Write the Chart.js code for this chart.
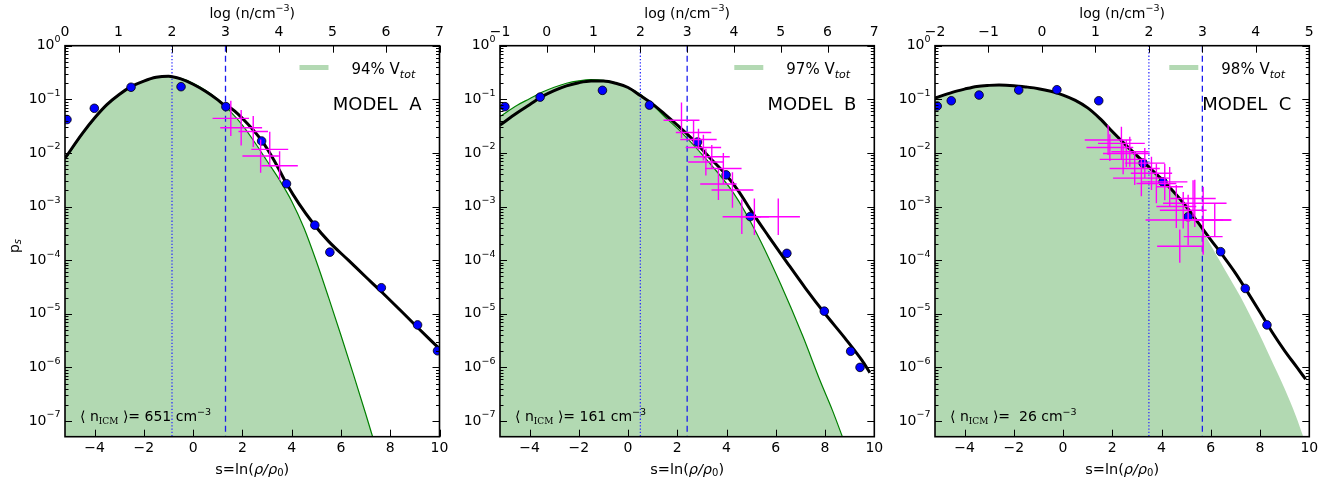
<!DOCTYPE html>
<html><head><meta charset="utf-8">
<script src="https://cdn.jsdelivr.net/npm/chart.js@4.4.1/dist/chart.umd.min.js"></script>
<style>
html,body{margin:0;padding:0;background:#fff;}
#wrap{position:relative;width:1332px;height:485px;overflow:hidden;}
canvas{position:absolute;top:0;}
</style></head><body><div id="wrap">
<canvas id="cA" width="455" height="485" style="left:0px"></canvas>
<canvas id="cB" width="440" height="485" style="left:450px"></canvas>
<canvas id="cC" width="447" height="485" style="left:885px"></canvas>
</div>
<script>
// ---------- shared axis data ----------
const sTicks = [-4, -2, 0, 2, 4, 6, 8, 10];
const yTickExps = [0, -1, -2, -3, -4, -5, -6, -7];
const yMin = 5.1e-8, yMax = 1;
const sMin = -5.2, sMax = 10;
const vDotted = 2, vDashed = 3;   // in log(n) units (top axis)

// ---------- MODEL A ----------
const aTop = [0, 1, 2, 3, 4, 5, 6, 7];
const aFitS = [-5.2,-4.5,-4,-3.5,-3,-2.5,-2,-1.5,-1,-0.5,0,0.5,1,1.3,1.55,2.2,2.8,3.3,3.8,4.3,4.9,5.5,6.3,7,7.6,8.4,9.1,9.95];
const aFitP = [7.94e-3,0.0229,0.0447,0.0794,0.123,0.174,0.219,0.257,0.269,0.240,0.191,0.141,0.0977,0.0759,0.0676,0.0355,0.0166,7.08e-3,2.63e-3,1.12e-3,4.68e-4,2.24e-4,1.0e-4,4.90e-5,2.69e-5,1.175e-5,5.62e-6,2.34e-6];
const aGauS = [-5.2,-4.5,-4,-3.5,-3,-2.5,-2,-1.5,-1,-0.5,0,0.5,1,1.5,2,2.5,3,3.5,4,4.5,5,5.5,6,6.5,7,7.35];
const aGauP = [7.59e-3,0.0224,0.0437,0.0785,0.122,0.172,0.222,0.257,0.269,0.245,0.1995,0.148,0.1,0.0603,0.0331,0.0158,7.08e-3,3.16e-3,1.26e-3,3.98e-4,9.55e-5,2.0e-5,3.98e-6,7.59e-7,1.38e-7,4.07e-8];
const aDotS = [-5.12,-4.01,-2.52,-0.49,1.33,2.78,3.79,4.94,5.55,7.64,9.11,9.92];
const aDotP = [0.042,0.068,0.168,0.172,0.073,0.0167,2.66e-3,4.5e-4,1.41e-4,3.06e-5,6.2e-6,2.04e-6];
const aErrS = [1.53,1.95,2.44,3.11,2.74,3.51];
const aErrP = [0.0442,0.0295,0.0251,0.01167,8.75e-3,5.75e-3];
const aErrDS = [0.74,0.85,0.6,0.75,0.74,0.74];
const aErrDex = [0.33,0.33,0.29,0.33,0.31,0.27];

// ---------- MODEL B ----------
const bTop = [-1, 0, 1, 2, 3, 4, 5, 6, 7];
const bFitS = [-5.2,-4.5,-4,-3.5,-3,-2.5,-2,-1.5,-1,-0.5,0,0.5,1,1.5,2,2.7,3.3,4,4.5,5,5.7,6.45,7.2,8,8.8,9.5,9.82];
const bFitP = [0.0331,0.0562,0.0794,0.112,0.145,0.178,0.204,0.219,0.219,0.1995,0.166,0.1175,0.0813,0.0525,0.0331,0.0166,8.32e-3,3.80e-3,1.905e-3,8.32e-4,2.82e-4,9.12e-5,3.02e-5,1.0e-5,3.55e-6,1.35e-6,7.94e-7];
const bGauS = [-5.2,-4.5,-4,-3.5,-3,-2.5,-2,-1.5,-1,-0.5,0,0.5,1,1.5,2.2,3.2,4.3,5.2,6.2,7.1,7.8,8.3,8.75];
const bGauP = [0.0479,0.0776,0.1023,0.135,0.168,0.1995,0.221,0.232,0.226,0.204,0.166,0.123,0.0794,0.0468,0.0234,7.41e-3,1.74e-3,3.31e-4,3.55e-5,3.80e-6,5.62e-7,1.58e-7,4.47e-8];
const bDotS = [-5.0,-3.57,-1.04,0.87,2.82,3.98,4.96,6.45,7.97,9.04,9.42];
const bDotP = [0.073,0.11,0.147,0.078,0.016,3.9e-3,6.5e-4,1.34e-4,1.12e-5,2.0e-6,1.0e-6];
const bErrS = [2.17,2.66,2.86,3.06,3.40,3.16,3.87,3.67,4.24,4.62,5.13,6.1];
const bErrP = [0.0407,0.0240,0.0178,0.0126,8.51e-3,6.76e-3,5.13e-3,2.63e-3,2.04e-3,6.46e-4,6.46e-4,6.46e-4];
const bErrDS = [0.73,0.72,0.74,0.72,0.73,0.72,0.74,0.74,0.85,0.78,0.6,0.88];
const bErrDex = [0.33,0.22,0.2,0.24,0.22,0.25,0.29,0.3,0.33,0.32,0.34,0.34];

// ---------- MODEL C ----------
const cTop = [-2, -1, 0, 1, 2, 3, 4, 5];
const cFitS = [-5.2,-4.5,-4,-3.5,-3,-2.6,-2,-1.5,-1,-0.5,0,0.5,1,1.5,2,2.5,3,3.5,4,4.5,5,5.5,6,6.5,7,7.5,8,8.5,9,9.5,9.85];
const cFitP = [0.105,0.135,0.155,0.174,0.182,0.185,0.180,0.170,0.158,0.141,0.120,0.0955,0.0692,0.0437,0.0251,0.0148,8.91e-3,5.37e-3,3.24e-3,1.86e-3,1.0e-3,4.90e-4,2.40e-4,1.20e-4,5.75e-5,2.51e-5,1.07e-5,4.47e-6,2.04e-6,1.0e-6,6.03e-7];
const cGauS = [-5.2,-4.5,-4,-3.5,-3,-2.6,-2,-1.5,-1,-0.5,0,0.5,1,1.5,2,2.5,3,3.5,4,4.5,5,5.5,6,6.6,7.2,7.8,8.4,9,9.45,9.8];
const cGauP = [0.105,0.135,0.155,0.174,0.182,0.185,0.180,0.170,0.158,0.141,0.120,0.0955,0.0692,0.0437,0.0251,0.0148,8.91e-3,5.37e-3,3.24e-3,1.86e-3,1.0e-3,4.68e-4,1.905e-4,6.31e-5,2.09e-5,6.03e-6,1.585e-6,3.98e-7,1.26e-7,4.47e-8];
const cDotS = [-5.11,-4.54,-3.41,-1.80,-0.25,1.45,3.25,4.06,5.08,6.40,7.4,8.28];
const cDotP = [0.075,0.094,0.12,0.149,0.151,0.094,6.46e-3,2.88e-3,6.46e-4,1.44e-4,2.97e-5,6.2e-6];
const cErrS = [1.83,2.37,1.90,2.71,2.57,2.44,3.32,2.91,3.59,3.18,4.13,4.33,5.28,5.35,4.88,5.08,5.69,4.74,5.69,3.79,4.60,6.16];
const cErrP = [0.0174,0.0151,0.0126,0.0105,9.77e-3,7.59e-3,6.46e-3,5.13e-3,4.17e-3,3.39e-3,2.88e-3,2.34e-3,1.41e-3,1.15e-3,8.51e-4,5.62e-4,2.75e-4,1.82e-4,5.62e-4,2.69e-3,1.0e-3,5.62e-4];
const cErrDS = [0.95,0.95,0.95,0.75,0.95,0.95,0.81,1.02,0.84,1.15,0.92,0.54,0.92,1.29,0.95,1.73,0.79,0.92,0.81,0.81,0.81,0.68];
const cErrDex = [0.28,0.31,0.25,0.28,0.25,0.28,0.28,0.31,0.31,0.34,0.34,0.37,0.34,0.44,0.34,0.47,0.34,0.31,0.62,0.37,0.4,0.31];

// ---------- helpers ----------
const F = 'DejaVu Sans';
function pts(xs, ys) { return xs.map((x, i) => ({x: x, y: ys[i]})); }
function minus(v) { return v < 0 ? '\u2212' + Math.abs(v) : String(v); }
function rich(ctx, parts, x, y, align) {
  let w = 0;
  parts.forEach(p => { ctx.font = p[1]; w += ctx.measureText(p[0]).width; });
  let cx = align === 'right' ? x - w : (align === 'center' ? x - w / 2 : x);
  ctx.textAlign = 'left';
  parts.forEach(p => { ctx.font = p[1]; ctx.fillText(p[0], cx, y + (p[2] || 0)); cx += ctx.measureText(p[0]).width; });
}

function deco(P) {
  return {
    id: 'deco' + P.name,
    afterDatasetDraw(chart, args) {
      if (args.index !== 0) return;
      const ctx = chart.ctx, a = chart.chartArea, x2 = chart.scales.x2;
      ctx.save();
      ctx.beginPath(); ctx.rect(a.left, a.top, a.right - a.left, a.bottom - a.top); ctx.clip();
      let xd = x2.getPixelForValue(vDotted);
      ctx.strokeStyle = '#2f2fff'; ctx.lineWidth = 1.3; ctx.setLineDash([1.3, 2.0]);
      ctx.beginPath(); ctx.moveTo(xd, a.top); ctx.lineTo(xd, a.bottom); ctx.stroke();
      let xs = x2.getPixelForValue(vDashed);
      ctx.strokeStyle = '#1a1aee'; ctx.lineWidth = 1.3; ctx.setLineDash([6, 4]);
      ctx.beginPath(); ctx.moveTo(xs, a.top); ctx.lineTo(xs, a.bottom); ctx.stroke();
      ctx.restore();
    },
    afterDatasetsDraw(chart) {
      const ctx = chart.ctx, a = chart.chartArea, X = chart.scales.x, Y = chart.scales.y;
      ctx.save();
      ctx.beginPath(); ctx.rect(a.left, a.top, a.right - a.left, a.bottom - a.top); ctx.clip();
      ctx.strokeStyle = '#ff00ff'; ctx.lineWidth = 1.4;
      P.errS.forEach((s, i) => {
        const p = P.errP[i], ds = P.errDS[i], f = Math.pow(10, P.errDex[i]);
        const px = X.getPixelForValue(s), py = Y.getPixelForValue(p);
        ctx.beginPath();
        ctx.moveTo(X.getPixelForValue(s - ds), py); ctx.lineTo(X.getPixelForValue(s + ds), py);
        ctx.moveTo(px, Y.getPixelForValue(p * f)); ctx.lineTo(px, Y.getPixelForValue(p / f));
        ctx.stroke();
      });
      ctx.restore();
    },
    afterDraw(chart) {
      const ctx = chart.ctx, a = chart.chartArea, X = chart.scales.x, X2 = chart.scales.x2, Y = chart.scales.y;
      ctx.save();
      ctx.strokeStyle = '#000'; ctx.fillStyle = '#000'; ctx.lineWidth = 1;
      ctx.beginPath();
      yTickExps.forEach(e => {
        for (let m = 1; m <= 9; m++) {
          const v = m * Math.pow(10, e);
          if (v < yMin || v > yMax) continue;
          const py = Math.round(Y.getPixelForValue(v)) + 0.5;
          const L = m === 1 ? 7 : 3.5;
          ctx.moveTo(a.left, py); ctx.lineTo(a.left + L, py);
          ctx.moveTo(a.right, py); ctx.lineTo(a.right - L, py);
        }
      });
      sTicks.forEach(s => {
        const px = Math.round(X.getPixelForValue(s)) + 0.5;
        ctx.moveTo(px, a.bottom); ctx.lineTo(px, a.bottom - 7);
      });
      P.top.forEach(t => {
        const px = Math.round(X2.getPixelForValue(t)) + 0.5;
        ctx.moveTo(px, a.top); ctx.lineTo(px, a.top + 7);
      });
      ctx.stroke();
      ctx.lineWidth = 1.6;
      ctx.strokeRect(a.left, a.top, a.right - a.left, a.bottom - a.top);

      ctx.textBaseline = 'middle';
      yTickExps.forEach(e => {
        const py = Y.getPixelForValue(Math.pow(10, e));
        rich(ctx, [['10', '14px ' + F, 0], [minus(e), '9.5px ' + F, -6]], a.left - 4.5, py, 'right');
      });
      sTicks.forEach(s => {
        rich(ctx, [[minus(s), '14px ' + F, 0]], X.getPixelForValue(s), 448.5, 'center');
      });
      P.top.forEach(t => {
        rich(ctx, [[minus(t), '14px ' + F, 0]], X2.getPixelForValue(t), 32, 'center');
      });
      const cx = (a.left + a.right) / 2;
      rich(ctx, [['log (n/cm', '14px ' + F, 0], ['\u22123', '9.5px ' + F, -5], [')', '14px ' + F, 0]], cx, 14, 'center');
      rich(ctx, [['s=ln(', '14.5px ' + F, 0], ['\u03c1/\u03c1', 'italic 14.5px ' + F, 0], ['0', '10px ' + F, 3], [')', '14.5px ' + F, 0]], cx, 470, 'center');
      if (P.ylabel) {
        ctx.save();
        ctx.translate(15, 246); ctx.rotate(-Math.PI / 2);
        rich(ctx, [['p', '14px ' + F, 0], ['s', 'italic 10px ' + F, 3]], 0, 0, 'center');
        ctx.restore();
      }
      ctx.textBaseline = 'alphabetic';
      ctx.strokeStyle = '#b3d9b3'; ctx.lineWidth = 5;
      ctx.beginPath(); ctx.moveTo(a.right - 140, 67.5); ctx.lineTo(a.right - 111, 67.5); ctx.stroke();
      ctx.fillStyle = '#000';
      rich(ctx, [[P.frac + ' V', '15px ' + F, 0], ['tot', 'italic 11px ' + F, 3.5]], a.right - 88, 74, 'left');
      rich(ctx, [[P.model, '18px ' + F, 0]], a.right - 18, 109.5, 'right');
      rich(ctx, [['\u27e8 n', '14px ' + F, 0], ['ICM', '9px DejaVu Serif', 3], [' \u27e9= ' + P.nicm + ' cm', '14px ' + F, 0], ['\u22123', '9.5px ' + F, -6]], a.left + 15, 421, 'left');
      ctx.restore();
    }
  };
}

function makeChart(id, P) {
  new Chart(document.getElementById(id), {
    type: 'line',
    data: { datasets: [
      { data: pts(P.gauS, P.gauP), borderColor: P.gauLine, borderWidth: 1.2, backgroundColor: 'rgba(0,128,0,0.3)',
        fill: 'start', pointRadius: 0, cubicInterpolationMode: 'monotone', order: 10 },
      { data: pts(P.fitS, P.fitP), borderColor: '#000', borderWidth: 3, fill: false, pointRadius: 0,
        cubicInterpolationMode: 'monotone', order: 5 },
      { data: pts(P.dotS, P.dotP), showLine: false, pointRadius: 4.3, backgroundColor: '#0000ff', borderColor: '#000',
        borderWidth: 0.8, pointHoverRadius: 4.3, order: 1 }
    ]},
    options: {
      responsive: false, animation: false, devicePixelRatio: 1,
      layout: { padding: P.pad },
      plugins: { legend: { display: false }, tooltip: { enabled: false } },
      events: [],
      scales: {
        x: { type: 'linear', min: sMin, max: sMax, display: false },
        x2: { type: 'linear', position: 'top', min: P.top[0], max: P.top[P.top.length - 1], display: false },
        y: { type: 'logarithmic', min: yMin, max: yMax, display: false }
      }
    },
    plugins: [deco(P)]
  });
}

makeChart('cA', { name: 'A', top: aTop, fitS: aFitS, fitP: aFitP, gauS: aGauS, gauP: aGauP, gauLine: '#008000',
  dotS: aDotS, dotP: aDotP, errS: aErrS, errP: aErrP, errDS: aErrDS, errDex: aErrDex,
  frac: '94%', model: 'MODEL  A', nicm: '651', ylabel: true,
  pad: { left: 65, right: 455 - 439.5, top: 45.7, bottom: 485 - 436.7 } });
makeChart('cB', { name: 'B', top: bTop, fitS: bFitS, fitP: bFitP, gauS: bGauS, gauP: bGauP, gauLine: '#008000',
  dotS: bDotS, dotP: bDotP, errS: bErrS, errP: bErrP, errDS: bErrDS, errDex: bErrDex,
  frac: '97%', model: 'MODEL  B', nicm: '161', ylabel: false,
  pad: { left: 50, right: 890 - 874.3, top: 45.7, bottom: 485 - 436.7 } });
makeChart('cC', { name: 'C', top: cTop, fitS: cFitS, fitP: cFitP, gauS: cGauS, gauP: cGauP, gauLine: 'rgba(0,128,0,0)',
  dotS: cDotS, dotP: cDotP, errS: cErrS, errP: cErrP, errDS: cErrDS, errDex: cErrDex,
  frac: '98%', model: 'MODEL  C', nicm: ' 26', ylabel: false,
  pad: { left: 50, right: 1332 - 1309.3, top: 45.7, bottom: 485 - 436.7 } });
</script>
</body></html>
